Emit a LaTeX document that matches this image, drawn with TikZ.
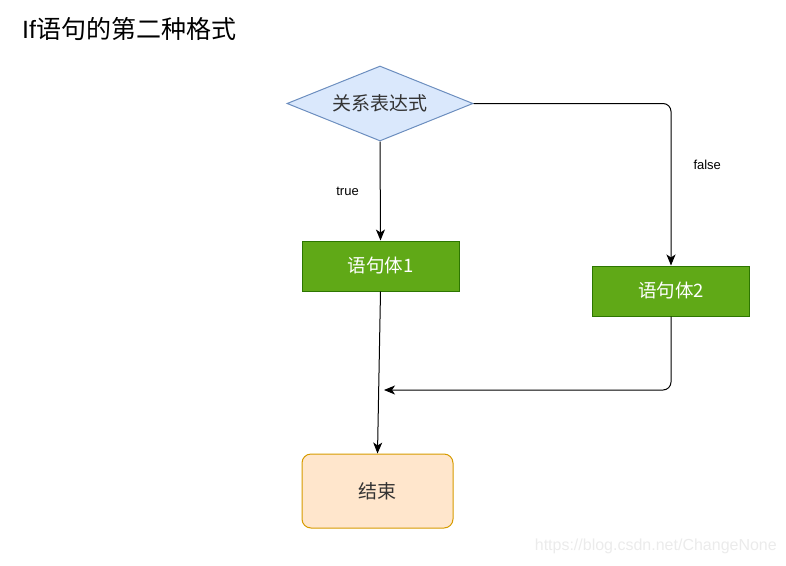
\documentclass[tikz,border=0pt]{standalone}
\usepackage{fontspec}
\setmainfont{Liberation Sans}
\newfontfamily\cjk{Noto Sans CJK SC}
\usetikzlibrary{shapes.geometric,arrows.meta}

\definecolor{condfill}{HTML}{DAE8FC}
\definecolor{conddraw}{HTML}{6C8EBF}
\definecolor{bodyfill}{HTML}{60A917}
\definecolor{bodydraw}{HTML}{2D7600}
\definecolor{endfill}{HTML}{FFE6CC}
\definecolor{enddraw}{HTML}{D79B00}
\definecolor{softtext}{HTML}{333333}

\tikzset{
    condbox/.style={diamond, aspect=2.5, inner sep=0pt, line width=1pt,
        draw=conddraw, fill=condfill, text=softtext,
        minimum width=186pt, minimum height=75pt,
        font=\cjk\fontsize{19}{21}\selectfont},
    bodybox/.style={rectangle, line width=1pt, draw=bodydraw, fill=bodyfill,
        text=white, minimum width=157pt, minimum height=50pt,
        font=\cjk\fontsize{18.5}{20}\selectfont},
    endbox/.style={rectangle, rounded corners=9pt, line width=1pt,
        draw=enddraw, fill=endfill, text=softtext,
        minimum width=151pt, minimum height=74pt,
        font=\cjk\fontsize{19}{21}\selectfont},
    arr/.style={line width=1pt, -{Stealth[length=11pt,width=9pt,inset=3pt]}},
    lbl/.style={inner sep=0pt, font=\fontsize{13}{15}\selectfont}
}

\begin{document}
\begin{tikzpicture}[x=1pt, y=-1pt]
    \useasboundingbox (0,0) rectangle (786,565);

    %Title
    \node[anchor=west, inner sep=0pt, font=\fontsize{25}{29}\selectfont] (title) at (22,29) {If{\cjk 语句的第二种格式}};

    %Condition
    \node[condbox] (cond) at (380,103.5) {关系表达式};

    %Statement blocks
    \node[bodybox] (body1) at (380.5,266) {语句体1};
    \node[bodybox] (body2) at (671,291) {语句体2};

    %End
    \node[endbox] (done) at (377.5,491) {结束};

    %Merge point
    \coordinate (merge) at (384,390);

    %Connectors
    \draw[arr] (cond.south) -- node[lbl, anchor=east, xshift=-21pt] {true} (body1.north);
    \draw[arr, rounded corners=8pt] (cond.east) -| node[lbl, pos=0.69, anchor=west, xshift=22pt] {false} (body2.north);
    \draw[arr] (body1.south) -- (done.north);
    \draw[arr, rounded corners=8pt] (body2.south) |- (merge);

    %Watermark
    \node[anchor=east, inner sep=0pt, text=black!8, font=\fontsize{16}{18}\selectfont] (mark) at (777,546) {https://blog.csdn.net/ChangeNone};
\end{tikzpicture}
\end{document}
